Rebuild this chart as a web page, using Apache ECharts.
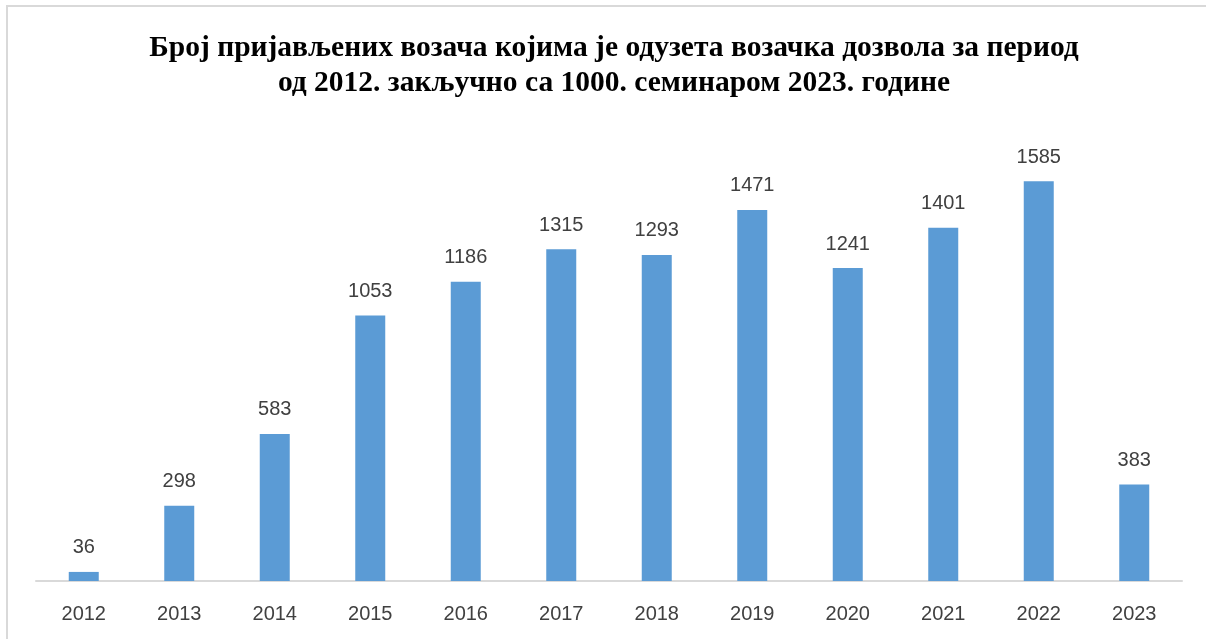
<!DOCTYPE html>
<html>
<head>
<meta charset="utf-8">
<script src="https://cdn.jsdelivr.net/npm/echarts@6/dist/echarts.min.js"></script>
<style>
  html, body { margin: 0; padding: 0; background: #fff; }
  #chart { width: 1206px; height: 639px; }
</style>
</head>
<body>
<div id="chart"></div>
<script>
const years = ['2012', '2013', '2014', '2015', '2016', '2017', '2018', '2019', '2020', '2021', '2022', '2023']
const drivers = [36, 298, 583, 1053, 1186, 1315, 1293, 1471, 1241, 1401, 1585, 383]

const chart = echarts.init(document.getElementById('chart'))

chart.setOption({
  animation: false,
  backgroundColor: '#fff',
  title: {
    text: 'Број пријављених возача којима је одузета возачка дозвола за период\nод 2012. закључно са 1000. семинаром 2023. године',
    left: 609,
    top: 26,
    textAlign: 'center',
    textStyle: {
      fontFamily: 'Liberation Serif',
      fontWeight: 'bold',
      fontSize: 29.5,
      lineHeight: 35,
      color: '#000'
    }
  },
  // chart frame (top and left edge visible in the picture)
  graphic: [
    { type: 'line', shape: { x1: 6, y1: 6, x2: 1206, y2: 6 }, style: { stroke: '#d9d9d9', lineWidth: 2 } },
    { type: 'line', shape: { x1: 7, y1: 6, x2: 7, y2: 639 }, style: { stroke: '#d9d9d9', lineWidth: 2 } }
  ],
  grid: { left: 36, right: 24, top: 127, bottom: 58, containLabel: false },
  xAxis: {
    type: 'category',
    data: years,
    axisLine: { lineStyle: { color: '#d9d9d9', width: 2 } },
    axisTick: { show: false },
    axisLabel: {
      color: '#404040',
      fontFamily: 'Liberation Sans',
      fontSize: 20,
      margin: 23
    }
  },
  yAxis: {
    type: 'value',
    min: 0,
    max: 1800,
    show: false,
    splitLine: { show: false }
  },
  series: [{
    type: 'bar',
    data: drivers,
    barWidth: 30,
    itemStyle: { color: '#5b9bd5' },
    label: {
      show: true,
      position: 'top',
      distance: 14,
      color: '#404040',
      fontFamily: 'Liberation Sans',
      fontSize: 20
    }
  }]
})
</script>
</body>
</html>
